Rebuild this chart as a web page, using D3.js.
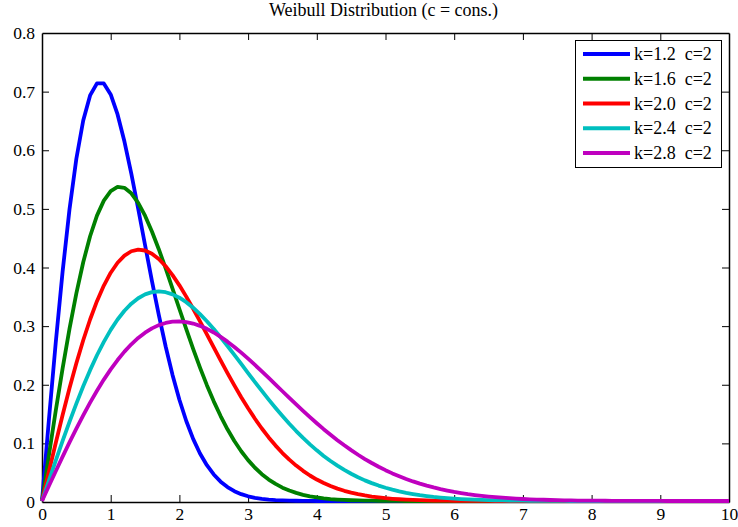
<!DOCTYPE html>
<html>
<head>
<meta charset="utf-8">
<script src="https://cdn.jsdelivr.net/npm/d3@7/dist/d3.min.js"></script>
<style>
  html, body { margin: 0; padding: 0; background: #fff; }
  svg { display: block; }
</style>
</head>
<body>
<div id="chart"></div>
<script>
// ---------------- data ----------------
const chartTitle = "Weibull Distribution (c = cons.)";
const xTickValues = [0, 1, 2, 3, 4, 5, 6, 7, 8, 9, 10];
const yTickValues = [0, 0.1, 0.2, 0.3, 0.4, 0.5, 0.6, 0.7, 0.8];
const yTickLabels = ["0", "0.1", "0.2", "0.3", "0.4", "0.5", "0.6", "0.7", "0.8"];
const seriesLabels = ["k=1.2  c=2", "k=1.6  c=2", "k=2.0  c=2", "k=2.4  c=2", "k=2.8  c=2"];
const seriesColors = ["#0000ff", "#008000", "#ff0000", "#00bfbf", "#bf00bf"];

// sample positions x = 0, 0.1, ... 10
const xSamples = d3.range(101).map(i => i / 10);

const k12 = [
  0, 0.1379, 0.2702, 0.3914, 0.4971, 0.5838, 0.6490, 0.6918, 0.7124, 0.7122,
  0.6935, 0.6594, 0.6131, 0.5584, 0.4985, 0.4367, 0.3756, 0.3173, 0.2635, 0.2151,
  0.1727, 0.1364, 0.1060, 0.0811, 0.0611, 0.0453, 0.0330, 0.0237, 0.0168, 0.0117,
  0.0080, 0.0054, 0.0036, 0.0024, 0.0015, 0.0010, 0.0006, 0.0004, 0.0002, 0.0001,
  0, 0, 0, 0, 0, 0, 0, 0, 0, 0,
  0, 0, 0, 0, 0, 0, 0, 0, 0, 0,
  0, 0, 0, 0, 0, 0, 0, 0, 0, 0,
  0, 0, 0, 0, 0, 0, 0, 0, 0, 0,
  0, 0, 0, 0, 0, 0, 0, 0, 0, 0,
  0, 0, 0, 0, 0, 0, 0, 0, 0, 0,
  0
];
const k16 = [
  0, 0.0778, 0.1538, 0.2263, 0.2936, 0.3543, 0.4073, 0.4516, 0.4868, 0.5124,
  0.5286, 0.5357, 0.5342, 0.5248, 0.5086, 0.4866, 0.4598, 0.4295, 0.3967, 0.3623,
  0.3275, 0.2930, 0.2595, 0.2276, 0.1976, 0.1700, 0.1449, 0.1223, 0.1023, 0.0848,
  0.0697, 0.0567, 0.0458, 0.0366, 0.0291, 0.0228, 0.0178, 0.0138, 0.0105, 0.0080,
  0.0060, 0.0045, 0.0033, 0.0025, 0.0018, 0.0013, 0.0009, 0.0007, 0.0005, 0.0003,
  0.0002, 0.0002, 0.0001, 0, 0, 0, 0, 0, 0, 0,
  0, 0, 0, 0, 0, 0, 0, 0, 0, 0,
  0, 0, 0, 0, 0, 0, 0, 0, 0, 0,
  0, 0, 0, 0, 0, 0, 0, 0, 0, 0,
  0, 0, 0, 0, 0, 0, 0, 0, 0, 0,
  0
];
const k20 = [
  0, 0.0499, 0.0990, 0.1467, 0.1922, 0.2349, 0.2742, 0.3096, 0.3409, 0.3675,
  0.3894, 0.4064, 0.4186, 0.4260, 0.4288, 0.4273, 0.4218, 0.4127, 0.4004, 0.3853,
  0.3679, 0.3486, 0.3280, 0.3064, 0.2843, 0.2620, 0.2399, 0.2182, 0.1972, 0.1771,
  0.1581, 0.1403, 0.1237, 0.1084, 0.0945, 0.0818, 0.0705, 0.0604, 0.0514, 0.0435,
  0.0366, 0.0307, 0.0255, 0.0211, 0.0174, 0.0142, 0.0116, 0.0094, 0.0076, 0.0061,
  0.0048, 0.0038, 0.0030, 0.0024, 0.0018, 0.0014, 0.0011, 0.0008, 0.0006, 0.0005,
  0.0004, 0.0003, 0.0002, 0.0002, 0.0001, 0.0001, 0, 0, 0, 0,
  0, 0, 0, 0, 0, 0, 0, 0, 0, 0,
  0, 0, 0, 0, 0, 0, 0, 0, 0, 0,
  0, 0, 0, 0, 0, 0, 0, 0, 0, 0,
  0
];
const k24 = [
  0, 0.0347, 0.0690, 0.1026, 0.1351, 0.1662, 0.1957, 0.2232, 0.2486, 0.2715,
  0.2919, 0.3096, 0.3245, 0.3366, 0.3459, 0.3524, 0.3562, 0.3574, 0.3561, 0.3525,
  0.3468, 0.3391, 0.3297, 0.3188, 0.3066, 0.2933, 0.2792, 0.2644, 0.2493, 0.2338,
  0.2183, 0.2029, 0.1878, 0.1730, 0.1587, 0.1449, 0.1317, 0.1193, 0.1076, 0.0966,
  0.0864, 0.0769, 0.0682, 0.0603, 0.0530, 0.0465, 0.0405, 0.0352, 0.0305, 0.0263,
  0.0226, 0.0194, 0.0165, 0.0140, 0.0119, 0.0100, 0.0084, 0.0070, 0.0059, 0.0049,
  0.0040, 0.0033, 0.0027, 0.0022, 0.0018, 0.0015, 0.0012, 0.0010, 0.0008, 0.0006,
  0.0005, 0.0004, 0.0003, 0.0002, 0.0002, 0.0001, 0.0001, 0, 0, 0,
  0, 0, 0, 0, 0, 0, 0, 0, 0, 0,
  0, 0, 0, 0, 0, 0, 0, 0, 0, 0,
  0
];
const k28 = [
  0, 0.0255, 0.0508, 0.0757, 0.1000, 0.1235, 0.1462, 0.1678, 0.1881, 0.2071,
  0.2246, 0.2405, 0.2548, 0.2673, 0.2781, 0.2872, 0.2945, 0.3000, 0.3037, 0.3058,
  0.3063, 0.3052, 0.3027, 0.2988, 0.2937, 0.2874, 0.2800, 0.2718, 0.2628, 0.2531,
  0.2428, 0.2321, 0.2211, 0.2099, 0.1985, 0.1872, 0.1758, 0.1647, 0.1537, 0.1430,
  0.1326, 0.1225, 0.1129, 0.1037, 0.0950, 0.0867, 0.0789, 0.0716, 0.0648, 0.0585,
  0.0526, 0.0471, 0.0422, 0.0376, 0.0334, 0.0296, 0.0262, 0.0231, 0.0203, 0.0178,
  0.0155, 0.0135, 0.0117, 0.0102, 0.0088, 0.0076, 0.0065, 0.0056, 0.0048, 0.0041,
  0.0034, 0.0029, 0.0025, 0.0021, 0.0017, 0.0015, 0.0012, 0.0010, 0.0008, 0.0007,
  0.0006, 0.0005, 0.0004, 0.0003, 0.0003, 0.0002, 0.0002, 0.0001, 0.0001, 0.0001,
  0.0001, 0, 0, 0, 0, 0, 0, 0, 0, 0,
  0
];
const seriesValues = [k12, k16, k20, k24, k28];

// ---------------- layout ----------------
(function draw() {
const W = 738, H = 527;
const mLeft = 42, mRight = 729, mTop = 33, mBottom = 502;
const FONT = "'Liberation Serif', 'Times New Roman', serif";

const svg = d3.select("#chart").append("svg")
  .attr("width", W).attr("height", H)
  .attr("font-family", FONT);
svg.append("rect").attr("width", W).attr("height", H).attr("fill", "#fff");

const x = d3.scaleLinear().domain([0, 10]).range([mLeft, mRight]);
const y = d3.scaleLinear().domain([0, 0.8]).range([mBottom, mTop]);

const tickLen = 7;
const axisColor = "#000";

const gx = svg.append("g").attr("transform", `translate(0,${mBottom})`)
  .call(d3.axisBottom(x).tickValues(xTickValues).tickFormat(d3.format("d"))
    .tickSizeInner(-tickLen).tickSizeOuter(0).tickPadding(6));
const gy = svg.append("g").attr("transform", `translate(${mLeft},0)`)
  .call(d3.axisLeft(y).tickValues(yTickValues).tickFormat((d, i) => yTickLabels[i])
    .tickSizeInner(-tickLen).tickSizeOuter(0).tickPadding(7));
const gt = svg.append("g").attr("transform", `translate(0,${mTop})`)
  .call(d3.axisTop(x).tickValues(xTickValues).tickFormat("")
    .tickSizeInner(-tickLen).tickSizeOuter(0));
const gr = svg.append("g").attr("transform", `translate(${mRight},0)`)
  .call(d3.axisRight(y).tickValues(yTickValues).tickFormat("")
    .tickSizeInner(-tickLen).tickSizeOuter(0));

[gx, gy, gt, gr].forEach(g => {
  g.attr("font-family", FONT).attr("font-size", 17.5);
  g.selectAll(".domain").attr("stroke", axisColor).attr("stroke-width", 1.5);
  g.selectAll(".tick line").attr("stroke", axisColor).attr("stroke-width", 1);
  g.selectAll(".tick text").attr("fill", "#000");
});
gx.selectAll(".tick").filter(d => d === 0 || d === 10).select("line").remove();
gt.selectAll(".tick").filter(d => d === 0 || d === 10).remove();
gy.selectAll(".tick").filter(d => d === 0 || d === 0.8).select("line").remove();
gr.selectAll(".tick").filter(d => d === 0 || d === 0.8).remove();

const line = d3.line()
  .x((d, i) => x(xSamples[i]))
  .y(d => y(d) - 1);

svg.append("g").selectAll("path")
  .data(seriesValues)
  .join("path")
  .attr("d", d => line(d))
  .attr("fill", "none")
  .attr("stroke", (d, i) => seriesColors[i])
  .attr("stroke-width", 3.8)
  .attr("stroke-linejoin", "round");

svg.append("text")
  .attr("x", (mLeft + mRight) / 2 - 2)
  .attr("y", 16)
  .attr("text-anchor", "middle")
  .attr("font-size", 18)
  .attr("fill", "#000")
  .text(chartTitle);

const lg = svg.append("g");
lg.append("rect")
  .attr("x", 575.5).attr("y", 40.5)
  .attr("width", 146).attr("height", 127)
  .attr("fill", "#fff").attr("stroke", "#000").attr("stroke-width", 1);
const rowY = d3.scaleLinear().domain([0, 4]).range([54, 153]);
const items = lg.selectAll("g.item").data(seriesLabels).join("g").attr("class", "item");
items.append("line")
  .attr("x1", 583).attr("x2", 630)
  .attr("y1", (d, i) => rowY(i)).attr("y2", (d, i) => rowY(i))
  .attr("stroke", (d, i) => seriesColors[i]).attr("stroke-width", 3.8);
items.append("text")
  .attr("x", 634).attr("y", (d, i) => rowY(i) + 6)
  .attr("font-size", 18)
  .attr("fill", "#000")
  .attr("xml:space", "preserve")
  .style("white-space", "pre")
  .text(d => d);
})();
</script>
</body>
</html>
